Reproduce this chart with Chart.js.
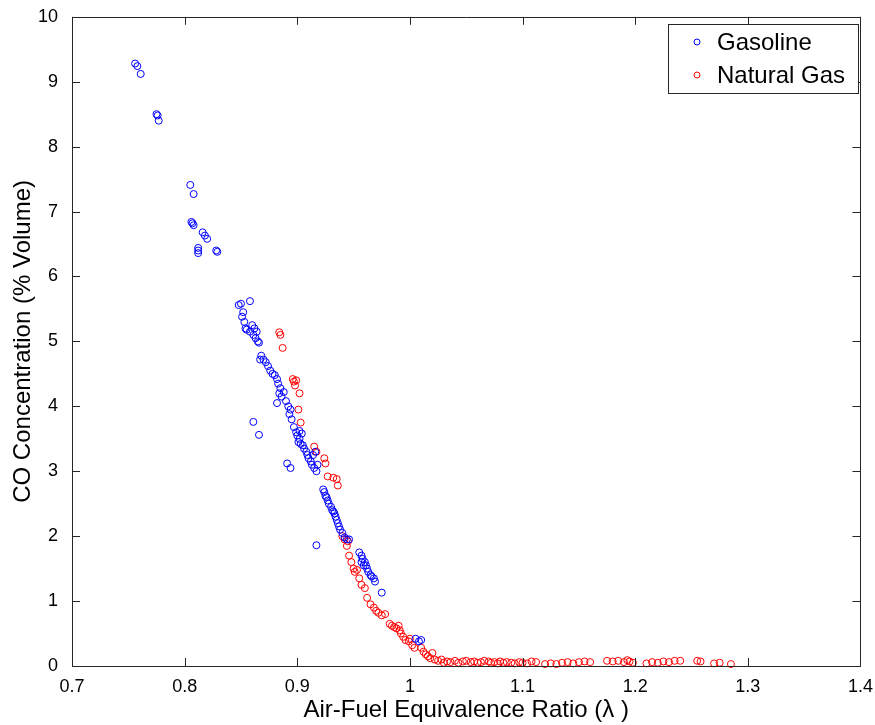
<!DOCTYPE html>
<html lang="en">
<head>
    <meta charset="UTF-8">
    <title>CO Concentration vs Air-Fuel Equivalence Ratio</title>
    <script src="https://cdn.jsdelivr.net/npm/chart.js@4.4.1/dist/chart.umd.min.js"></script>
    <style>
        body { margin: 0; background: #fff; }
        #wrap { width: 875px; height: 725px; }
    </style>
</head>
<body>
    <div id="wrap"><canvas id="myChart" width="875" height="725"></canvas></div>

    <script>
        // Gasoline: lambda / CO %
        const gasLambda = [0.756, 0.758, 0.761, 0.775, 0.776, 0.777, 0.805, 0.808, 0.806, 0.807, 0.808,
            0.816, 0.818, 0.820, 0.812, 0.812, 0.812, 0.828, 0.829,
            0.848, 0.850, 0.858, 0.852, 0.851, 0.853, 0.855, 0.858, 0.860, 0.862, 0.864, 0.863, 0.865, 0.866, 0.861, 0.854,
            0.861, 0.866,
            0.867, 0.868, 0.870, 0.872, 0.874, 0.876, 0.878, 0.880, 0.882, 0.883, 0.885, 0.884, 0.886, 0.882, 0.888, 0.890, 0.892, 0.894, 0.893, 0.895,
            0.891, 0.894,
            0.897, 0.899, 0.900, 0.902, 0.901, 0.903, 0.905, 0.906, 0.908, 0.909, 0.910, 0.912, 0.913, 0.915, 0.917, 0.918, 0.914, 0.916, 0.904, 0.902,
            0.917,
            0.923, 0.924, 0.925, 0.926, 0.927, 0.928, 0.930, 0.931, 0.932, 0.933, 0.934, 0.935, 0.936, 0.937, 0.938, 0.940, 0.942, 0.944, 0.946,
            0.955, 0.957, 0.958, 0.960, 0.961, 0.962, 0.963, 0.965, 0.966, 0.968, 0.969, 0.957, 0.959, 0.975,
            1.005, 1.008, 1.010];
        const gasCO = [9.28, 9.24, 9.12, 8.50, 8.48, 8.40, 7.41, 7.27, 6.84, 6.82, 6.79,
            6.68, 6.63, 6.58, 6.44, 6.40, 6.36, 6.40, 6.38,
            5.56, 5.58, 5.62, 5.45, 5.38, 5.30, 5.18, 5.15, 5.25, 5.20, 5.15, 5.05, 5.00, 4.98, 5.10, 5.20,
            3.76, 3.56,
            4.72, 4.78, 4.72, 4.68, 4.62, 4.55, 4.50, 4.48, 4.42, 4.35, 4.28, 4.20, 4.15, 4.05, 4.22, 4.08, 4.00, 3.95, 3.88, 3.80,
            3.12, 3.05,
            3.68, 3.60, 3.55, 3.50, 3.45, 3.42, 3.40, 3.35, 3.30, 3.25, 3.20, 3.15, 3.10, 3.05, 3.00, 3.10, 3.25, 3.30, 3.58, 3.62,
            1.86,
            2.72, 2.68, 2.62, 2.60, 2.55, 2.50, 2.45, 2.40, 2.38, 2.35, 2.30, 2.25, 2.20, 2.15, 2.10, 2.05, 1.98, 1.95, 1.95,
            1.75, 1.70, 1.65, 1.60, 1.55, 1.50, 1.45, 1.40, 1.38, 1.35, 1.30, 1.60, 1.55, 1.13,
            0.42, 0.38, 0.40];

        // Natural gas: lambda / CO %
        const ngLambda = [0.884, 0.885, 0.887, 0.896, 0.897, 0.899, 0.898, 0.902, 0.901, 0.903,
            0.915, 0.917, 0.924, 0.925, 0.932, 0.935, 0.936, 0.927,
            0.940, 0.942, 0.945, 0.944, 0.946, 0.948, 0.950, 0.951, 0.953, 0.955, 0.957, 0.960, 0.962, 0.965, 0.968, 0.970, 0.972, 0.975, 0.978,
            0.982, 0.984, 0.986, 0.988, 0.990, 0.991, 0.992, 0.994, 0.996, 0.999, 1.002, 1.004, 1.000,
            1.010, 1.012, 1.014, 1.016, 1.018, 1.020, 1.022,
            1.025, 1.028, 1.030, 1.033, 1.036, 1.040, 1.043, 1.047, 1.050, 1.054, 1.057, 1.060, 1.063, 1.066, 1.070, 1.072,
            1.075, 1.078, 1.080, 1.083, 1.086, 1.090, 1.093, 1.097, 1.100, 1.104, 1.108, 1.112, 1.120, 1.125, 1.130, 1.135,
            1.140, 1.145, 1.150, 1.155, 1.160, 1.175, 1.180, 1.185, 1.190, 1.193, 1.195, 1.198, 1.210, 1.215, 1.220, 1.225,
            1.230, 1.235, 1.240, 1.255, 1.258, 1.270, 1.275, 1.285];
        const ngCO = [5.14, 5.10, 4.90, 4.42, 4.38, 4.40, 4.32, 4.20, 3.95, 3.75,
            3.38, 3.30, 3.20, 3.12, 2.90, 2.88, 2.78, 2.92,
            2.00, 1.95, 1.92, 1.85, 1.70, 1.60, 1.50, 1.45, 1.48, 1.35, 1.25, 1.20, 1.05, 0.95, 0.90, 0.85, 0.82, 0.78, 0.80,
            0.65, 0.62, 0.60, 0.58, 0.62, 0.55, 0.50, 0.45, 0.40, 0.38, 0.32, 0.28, 0.42,
            0.28, 0.22, 0.18, 0.15, 0.12, 0.20, 0.10,
            0.08, 0.10, 0.05, 0.07, 0.06, 0.08, 0.05, 0.07, 0.08, 0.06, 0.07, 0.05, 0.06, 0.08, 0.07, 0.05,
            0.06, 0.04, 0.07, 0.05, 0.06, 0.05, 0.04, 0.06, 0.05, 0.04, 0.07, 0.06, 0.03, 0.04, 0.03, 0.05,
            0.06, 0.04, 0.06, 0.07, 0.06, 0.08, 0.07, 0.08, 0.06, 0.09, 0.07, 0.05, 0.04, 0.06, 0.05, 0.07,
            0.06, 0.08, 0.08, 0.08, 0.07, 0.04, 0.05, 0.03];

        const xTicks = [0.7, 0.8, 0.9, 1, 1.1, 1.2, 1.3, 1.4];
        const yTicks = [0, 1, 2, 3, 4, 5, 6, 7, 8, 9, 10];

        const toPoints = (xs, ys) => xs.map((x, i) => ({ x: x, y: ys[i] }));

        // MATLAB-like box with inward ticks and boxed legend
        const boxPlugin = {
            id: 'boxPlugin',
            afterDraw(chart) {
                const ctx = chart.ctx;
                const a = chart.chartArea;
                const xs = chart.scales.x, ys = chart.scales.y;
                ctx.save();
                ctx.strokeStyle = '#262626';
                ctx.lineWidth = 1;
                ctx.beginPath();
                ctx.rect(Math.round(a.left) + 0.5, Math.round(a.top) + 0.5,
                    Math.round(a.right - a.left), Math.round(a.bottom - a.top));
                const len = 8;
                xTicks.forEach(v => {
                    const p = Math.round(xs.getPixelForValue(v)) + 0.5;
                    ctx.moveTo(p, a.bottom); ctx.lineTo(p, a.bottom - len);
                    ctx.moveTo(p, a.top); ctx.lineTo(p, a.top + len);
                });
                yTicks.forEach(v => {
                    const p = Math.round(ys.getPixelForValue(v)) + 0.5;
                    ctx.moveTo(a.left, p); ctx.lineTo(a.left + len, p);
                    ctx.moveTo(a.right, p); ctx.lineTo(a.right - len, p);
                });
                ctx.stroke();

                // legend
                const lx = 668, ly = 24, lw = 190, lh = 69;
                ctx.fillStyle = '#fff';
                ctx.fillRect(lx, ly, lw, lh);
                ctx.strokeRect(lx + 0.5, ly + 0.5, lw, lh);
                ctx.font = '24px "Liberation Sans", Arial, sans-serif';
                ctx.textBaseline = 'middle';
                chart.data.datasets.forEach((ds, i) => {
                    const cy = ly + 18 + i * 33;
                    ctx.strokeStyle = ds.borderColor;
                    ctx.beginPath();
                    ctx.arc(lx + 29, cy, 3, 0, Math.PI * 2);
                    ctx.stroke();
                    ctx.fillStyle = '#000';
                    ctx.fillText(ds.label, lx + 49, cy + 1);
                });
                ctx.restore();
            }
        };

        const ctx = document.getElementById('myChart').getContext('2d');
        const myChart = new Chart(ctx, {
            type: 'scatter',
            data: {
                datasets: [{
                    label: 'Gasoline',
                    data: toPoints(gasLambda, gasCO),
                    borderColor: '#0000ff',
                    backgroundColor: 'rgba(0,0,0,0)',
                    pointRadius: 3.5,
                    borderWidth: 1
                }, {
                    label: 'Natural Gas',
                    data: toPoints(ngLambda, ngCO),
                    borderColor: '#ff0000',
                    backgroundColor: 'rgba(0,0,0,0)',
                    pointRadius: 3.5,
                    borderWidth: 1
                }]
            },
            options: {
                responsive: false,
                animation: false,
                clip: false,
                layout: { padding: { left: 0, top: 16, right: 14, bottom: 0 } },
                plugins: {
                    legend: { display: false },
                    tooltip: { enabled: false }
                },
                scales: {
                    x: {
                        type: 'linear',
                        min: 0.7,
                        max: 1.4,
                        afterBuildTicks: axis => { axis.ticks = xTicks.map(v => ({ value: v })); },
                        afterFit: axis => { axis.height = 59; },
                        grid: { display: false },
                        border: { display: false },
                        ticks: {
                            color: '#000',
                            padding: 2,
                            font: { family: '"Liberation Sans", Arial, sans-serif', size: 18 },
                            callback: v => String(v)
                        },
                        title: {
                            display: true,
                            text: 'Air-Fuel Equivalence Ratio (\u03bb )',
                            color: '#000',
                            padding: { top: 4, bottom: 0 },
                            font: { family: '"Liberation Sans", Arial, sans-serif', size: 24 }
                        }
                    },
                    y: {
                        type: 'linear',
                        min: 0,
                        max: 10,
                        afterBuildTicks: axis => { axis.ticks = yTicks.map(v => ({ value: v })); },
                        afterFit: axis => { axis.width = 72; },
                        grid: { display: false },
                        border: { display: false },
                        ticks: {
                            color: '#000',
                            padding: 6,
                            font: { family: '"Liberation Sans", Arial, sans-serif', size: 18 }
                        },
                        title: {
                            display: true,
                            text: 'CO Concentration (% Volume)',
                            color: '#000',
                            padding: { top: 9, bottom: 4 },
                            font: { family: '"Liberation Sans", Arial, sans-serif', size: 24 }
                        }
                    }
                }
            },
            plugins: [boxPlugin]
        });
    </script>
</body>
</html>
